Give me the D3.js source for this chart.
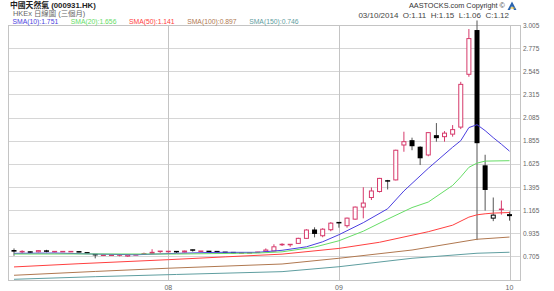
<!DOCTYPE html>
<html lang="zh-Hant">
<head>
  <meta charset="UTF-8">
  <title>中國天然氣 (000931.HK)</title>
  <style>
    body { margin: 0; background: #fff; }
    svg { display: block; font-family: Arial, "Liberation Sans", sans-serif; }
    .grid line { stroke: #d6d6d6; shape-rendering: crispEdges; }
    .vgrid line { stroke: #c4c4c4; shape-rendering: crispEdges; }
    .frame { fill: none; stroke: #c4c4c4; shape-rendering: crispEdges; }
    .yaxis text { font-size: 6.5px; fill: #666; }
    .xaxis text { font-size: 7px; fill: #666; }
    .head { font-family: Arial, "Liberation Sans", "Noto Sans CJK TC", sans-serif; }
  </style>
</head>
<body>
  <svg id="chart" width="554" height="291"></svg>

  <script src="https://cdnjs.cloudflare.com/ajax/libs/d3/7.8.5/d3.min.js"></script>
  <script>
    // trading days shown (HKEx, three months)
    const dates = [
      "2014-07-07","2014-07-08","2014-07-09","2014-07-10","2014-07-11",
      "2014-07-14","2014-07-15","2014-07-16","2014-07-17","2014-07-18",
      "2014-07-21","2014-07-22","2014-07-23","2014-07-24","2014-07-25",
      "2014-07-28","2014-07-29","2014-07-30","2014-07-31",
      "2014-08-01","2014-08-04","2014-08-05","2014-08-06","2014-08-07","2014-08-08",
      "2014-08-11","2014-08-12","2014-08-13","2014-08-14","2014-08-15",
      "2014-08-18","2014-08-19","2014-08-20","2014-08-21","2014-08-22",
      "2014-08-25","2014-08-26","2014-08-27","2014-08-28","2014-08-29",
      "2014-09-01","2014-09-02","2014-09-03","2014-09-04","2014-09-05",
      "2014-09-08","2014-09-10","2014-09-11","2014-09-12",
      "2014-09-15","2014-09-16","2014-09-17","2014-09-18","2014-09-19",
      "2014-09-22","2014-09-23","2014-09-24","2014-09-25","2014-09-26",
      "2014-09-29","2014-09-30","2014-10-03"
    ];

    const opens = [
      .768,.752,.748,.750,.765,.752,.752,.752,.750,.740,
      .722,.716,.716,.718,.708,.720,.728,.735,.755,.755,
      .752,.748,.768,.756,.754,.752,.745,.742,.738,.740,
      .745,.755,.758,.822,.822,.834,.884,.972,.910,.970,
      1.040,1.010,1.075,1.195,1.290,1.350,1.455,1.465,1.812,1.860,
      1.795,1.713,1.910,1.895,1.920,1.990,2.515,2.955,1.610,1.085,
      1.180,1.110
    ];
    const highs = [
      .784,.765,.755,.768,.770,.755,.756,.758,.752,.742,
      .724,.720,.718,.722,.722,.725,.742,.776,.757,.758,
      .758,.762,.772,.758,.756,.755,.746,.744,.742,.745,
      .750,.784,.825,.835,.827,.890,.975,.994,.985,1.045,
      1.045,1.090,1.200,1.392,1.390,1.485,1.465,1.765,1.944,1.885,
      1.800,1.940,2.030,1.950,2.010,2.440,2.965,3.050,1.715,1.290,
      1.260,1.150
    ];
    const lows = [
      .711,.735,.738,.745,.745,.745,.748,.748,.745,.735,
      .685,.708,.712,.705,.700,.718,.722,.728,.740,.742,
      .738,.745,.752,.752,.750,.742,.735,.735,.735,.738,
      .740,.750,.755,.808,.800,.830,.878,.894,.895,.955,
      .990,.990,1.070,1.083,1.265,1.340,1.370,1.460,1.745,1.760,
      1.613,1.700,1.845,1.845,1.895,1.970,2.490,.867,1.160,1.055,
      1.120,1.060
    ];
    const closes = [
      .752,.752,.745,.762,.750,.752,.752,.752,.748,.738,
      .716,.716,.716,.718,.720,.722,.732,.745,.755,.756,
      .748,.758,.755,.756,.752,.745,.742,.738,.740,.742,
      .748,.768,.800,.825,.825,.884,.967,.928,.975,1.035,
      1.030,1.085,1.195,1.235,1.355,1.480,1.445,1.760,1.845,1.800,
      1.680,1.935,1.880,1.930,1.965,2.415,2.870,1.830,1.365,1.115,
      1.165,1.120
    ];
    const closeBefore = 0.77;

    // moving averages: [day index, value]
    const sma10 = [[0,.735],[5,.738],[10,.728],[15,.721],[20,.735],[25,.745],[30,.745],
      [33,.765],[36,.80],[38,.85],[40,.92],[43,1.04],[46,1.178],[48,1.355],[51,1.58],
      [54,1.79],[55,1.855],[56,1.985],[57,2.014],[58,1.955],[59,1.885],[60,1.82],[61,1.751]];
    const sma20 = [[0,.728],[10,.729],[20,.728],[30,.738],[33,.75],[37,.797],[40,.86],
      [43,.955],[46,1.075],[49,1.19],[51,1.245],[54,1.41],[55,1.495],[56,1.59],
      [57,1.632],[58,1.652],[61,1.656]];
    const sma50 = [[0,.600],[8,.632],[19,.672],[26,.700],[33,.727],[40,.784],[45,.845],
      [51,.95],[54,1.015],[56,1.095],[57,1.118],[58,1.128],[59,1.135],[61,1.141]];
    const sma100 = [[0,.517],[10,.555],[19,.587],[33,.629],[40,.686],[49,.768],[57,.875],[61,.897]];
    const sma150 = [[0,.477],[10,.503],[20,.525],[33,.553],[40,.602],[49,.686],[57,.736],[61,.746]];

    const smaNames = ["SMA(10)", "SMA(20)", "SMA(50)", "SMA(100)", "SMA(150)"];
    const smaLast = ["1.751", "1.656", "1.141", "0.897", "0.746"];
    const smaColors = ["#4b3fe0", "#66dd66", "#ff4040", "#b07850", "#5f9ea0"];

    const yTicks = [0.705, 0.935, 1.165, 1.395, 1.625, 1.855, 2.085, 2.315, 2.545, 2.775, 3.005];

    const title = "中國天然氣 (000931.HK)";
    const subtitle = "HKEx 日線圖 (三個月)";
    const lastQuote = "03/10/2014  O:1.11  H:1.15  L:1.06  C:1.12";
    const copyright = "AASTOCKS.com Copyright ©";

    const upColor = "#d63a6b";
    const downColor = "#000";

    const plot = { left: 8, right: 520, top: 25, bottom: 280 };

    const svg = d3.select("#chart");

    const x = d3.scaleLinear().domain([0, dates.length - 1]).range([14, 509.5]);
    const y = d3.scaleLinear().domain([0.47, 3.005]).range([plot.bottom, plot.top]);

    // horizontal grid
    svg.append("g").attr("class", "grid")
      .selectAll("line").data(yTicks).join("line")
      .attr("x1", plot.left).attr("x2", plot.right)
      .attr("y1", d => Math.round(y(d)) + 0.5).attr("y2", d => Math.round(y(d)) + 0.5);

    // month starts
    const monthStarts = dates
      .map((d, i) => ({ i, m: d.slice(5, 7) }))
      .filter((d, i, arr) => i > 0 && d.m !== arr[i - 1].m);

    svg.append("g").attr("class", "vgrid")
      .selectAll("line").data(monthStarts).join("line")
      .attr("x1", d => Math.round(x(d.i)) + 0.5).attr("x2", d => Math.round(x(d.i)) + 0.5)
      .attr("y1", plot.top).attr("y2", plot.bottom);

    svg.append("rect").attr("class", "frame")
      .attr("x", plot.left + 0.5).attr("y", plot.top + 0.5)
      .attr("width", plot.right - plot.left).attr("height", plot.bottom - plot.top);

    // y axis on the right
    const yAxis = d3.axisRight(y).tickValues(yTicks).tickFormat(d3.format(".3f")).tickSize(0).tickPadding(3);
    svg.append("g").attr("class", "yaxis")
      .attr("transform", `translate(${plot.right},0)`)
      .call(yAxis)
      .call(g => g.select(".domain").remove());

    // x labels
    svg.append("g").attr("class", "xaxis")
      .selectAll("text").data(monthStarts).join("text")
      .attr("x", d => x(d.i)).attr("y", 289.5)
      .attr("text-anchor", "middle")
      .text(d => d.m);

    // candles
    const candles = dates.map((d, i) => ({
      i, o: opens[i], h: highs[i], l: lows[i], c: closes[i],
      prev: i === 0 ? closeBefore : closes[i - 1]
    }));

    const cg = svg.append("g");
    candles.forEach(d => {
      const up = d.c >= d.prev;
      const col = up ? upColor : downColor;
      const cx = x(d.i);
      cg.append("line")
        .attr("x1", cx).attr("x2", cx)
        .attr("y1", y(d.h)).attr("y2", y(d.l))
        .attr("stroke", up ? upColor : "#555").attr("stroke-width", 1);
      if (d.c > d.o) {
        const top = y(d.c), bot = y(d.o);
        cg.append("rect")
          .attr("x", cx - 2).attr("y", top)
          .attr("width", 4).attr("height", Math.max(bot - top, 0.5))
          .attr("fill", "#fff").attr("stroke", col).attr("stroke-width", 1);
      } else {
        const top = y(d.o), bot = y(d.c);
        cg.append("rect")
          .attr("x", cx - 2.5).attr("y", top - (bot - top < 1.5 ? 0.75 : 0))
          .attr("width", 5).attr("height", Math.max(bot - top, 1.5))
          .attr("fill", col);
      }
    });

    // moving averages
    const line = d3.line().x(d => x(d[0])).y(d => y(d[1]));
    [sma10, sma20, sma50, sma100, sma150].forEach((s, k) => {
      svg.append("path").datum(s)
        .attr("d", line)
        .attr("fill", "none")
        .attr("stroke", smaColors[k])
        .attr("stroke-width", 1);
    });

    // header
    svg.append("text").attr("class", "head").attr("x", 10).attr("y", 7.7)
      .style("font-size", "7.8px").style("font-weight", "bold").attr("fill", "#222")
      .text(title);
    svg.append("text").attr("class", "head").attr("x", 13).attr("y", 16.1)
      .style("font-size", "7.4px").attr("fill", "#666")
      .text(subtitle);

    let lx = 12.5;
    smaNames.forEach((n, k) => {
      const t = svg.append("text").attr("x", lx).attr("y", 23.9)
        .style("font-size", "6.8px").attr("fill", smaColors[k])
        .text(`${n}:${smaLast[k]}`);
      lx += t.node().getComputedTextLength() + 12.5;
    });

    svg.append("text").attr("x", 505).attr("y", 8)
      .attr("text-anchor", "end")
      .style("font-size", "7.3px").attr("fill", "#333")
      .text(copyright);
    svg.append("text").attr("x", 509).attr("y", 18)
      .attr("text-anchor", "end").attr("xml:space", "preserve")
      .style("font-size", "8px").attr("fill", "#444")
      .text(lastQuote);

    // small logo
    svg.append("path").attr("d", "M507.5,10 L512,1.5 L516.5,10 L514,10 L512,6 L510,10 Z").attr("fill", "#2a64b0");
    svg.append("path").attr("d", "M510.5,8 L514.5,8").attr("stroke", "#f2c230").attr("stroke-width", 1.2);
  </script>
</body>
</html>
